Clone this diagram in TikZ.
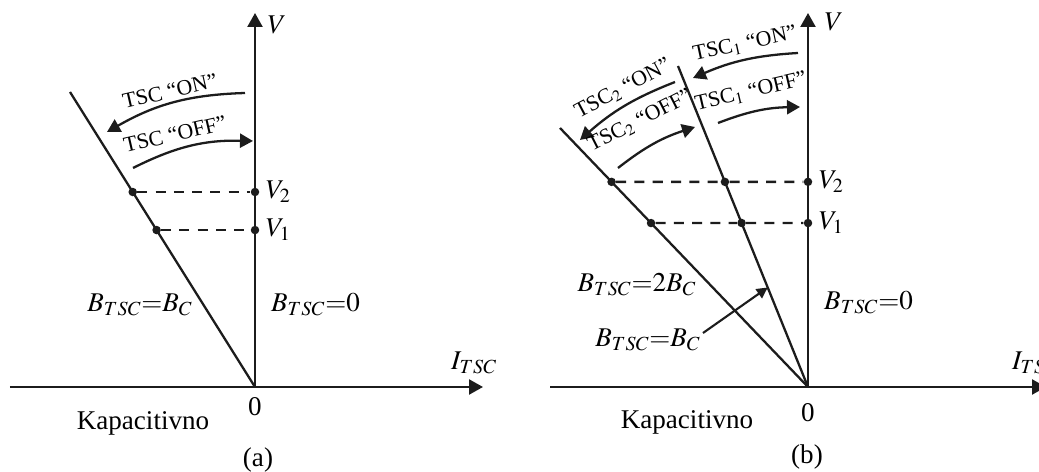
\documentclass[tikz,border=0pt]{standalone}
\usepackage{mathptmx}
\usepackage{fontspec}
\setmainfont{Liberation Serif}
\usetikzlibrary{arrows.meta,positioning,calc}
\definecolor{INK}{HTML}{1C1C1C}

\begin{document}
\begin{tikzpicture}[
  font=\fontsize{15.4}{18}\selectfont,
  axis/.style={-{Triangle[length=2.8mm, width=3mm]}, draw=INK, line width=1.3pt},
  ray/.style={draw=INK, line width=1.3pt},
  guide/.style={draw=INK, dash pattern=on 5.7pt off 4.7pt, line width=1.3pt},
  dot/.style={circle, fill=INK, inner sep=0pt, minimum size=1.7mm},
  arr/.style={-{Triangle[length=2.6mm, width=2.8mm]}, draw=INK, line width=1.3pt},
  ptr/.style={-{Triangle[length=2.2mm, width=2.2mm]}, draw=INK, line width=1.2pt},
  swlbl/.style={font=\fontsize{12.4}{14}\selectfont, inner sep=1pt},
]
\useasboundingbox (0,0) rectangle (20.78,9.44);
\clip (0,0) rectangle (20.78,9.44);

% panel (a)
\coordinate (Oa) at (5.10,1.70);
\coordinate (Va) at (5.10,9.18);
\coordinate (Xa0) at (0.20,1.70);
\coordinate (Xa1) at (9.66,1.70);
\coordinate (Ea) at (1.40,7.60);
\draw[axis] (Xa0) -- (Xa1);
\draw[axis] (Oa) -- (Va);
\draw[ray] (Oa) -- (Ea);

\node[dot] (a2) at ($(Oa)!0.661!(Ea)$) {};
\node[dot] (a1) at ($(Oa)!0.532!(Ea)$) {};
\node[dot] (a2v) at (Oa |- a2) {};
\node[dot] (a1v) at (Oa |- a1) {};
\draw[guide] (a2) -- (a2v);
\draw[guide] (a1) -- (a1v);
\node[right=0.12cm of a2v, inner sep=0pt] {$V_2$};
\node[right=0.12cm of a1v, inner sep=0pt] {$V_1$};

\node (VlA) at (5.54,8.94) {$V$};
\node[anchor=west] (IlA) at (8.90,2.18) {$I_{TSC}$};
\node (zeroA) at (5.10,1.30) {0};
\node (capA) at (2.86,0.98) {Kapacitivno};
\node (tagA) at (5.16,0.24) {(a)};
\node (bcA) at (2.80,3.34) {$B_{TSC}{=}B_C$};
\node[anchor=west] (b0A) at (5.30,3.34) {$B_{TSC}{=}0$};

% switching arrows (a)
\coordinate (onA1) at (4.90,7.58);
\coordinate (onA2) at (2.14,6.80);
\coordinate (offA1) at (2.66,6.08);
\coordinate (offA2) at (5.06,6.62);
\draw[arr] (onA1) to[bend right=14] (onA2);
\draw[arr] (offA1) to[bend left=14] (offA2);
\node[swlbl, rotate=13] at (3.40,7.62) {TSC “ON”};
\node[swlbl, rotate=13] at (3.50,6.76) {TSC “OFF”};

% panel (b)
\coordinate (Ob) at (16.16,1.70);
\coordinate (Vb) at (16.16,9.18);
\coordinate (Xb0) at (11.00,1.70);
\coordinate (Xb1) at (20.92,1.70);
\coordinate (Eb1) at (13.56,8.12);
\coordinate (Eb2) at (11.20,6.88);
\draw[axis] (Xb0) -- (Xb1);
\draw[axis] (Ob) -- (Vb);
\draw[ray] (Ob) -- (Eb1);
\draw[ray] (Ob) -- (Eb2);

\node[dot] (b2o) at ($(Ob)!0.792!(Eb2)$) {};
\node[dot] (b2i) at ($(Ob)!0.639!(Eb1)$) {};
\node[dot] (b1o) at ($(Ob)!0.633!(Eb2)$) {};
\node[dot] (b1i) at ($(Ob)!0.511!(Eb1)$) {};
\node[dot] (b2v) at (Ob |- b2o) {};
\node[dot] (b1v) at (Ob |- b1o) {};
\draw[guide] (b2o) -- (b2i) -- (b2v);
\draw[guide] (b1o) -- (b1i) -- (b1v);
\node[right=0.12cm of b2v, inner sep=0pt] {$V_2$};
\node[right=0.12cm of b1v, inner sep=0pt] {$V_1$};

\node (VlB) at (16.68,9.00) {$V$};
\node[anchor=west] (IlB) at (20.12,2.18) {$I_{TSC}$};
\node (zeroB) at (16.16,1.18) {0};
\node (capB) at (13.74,1.00) {Kapacitivno};
\node (tagB) at (16.14,0.30) {(b)};
\node (b2cB) at (12.74,3.74) {$B_{TSC}{=}2B_C$};
\node (bcB) at (12.96,2.64) {$B_{TSC}{=}B_C$};
\node[anchor=west] (b0B) at (16.36,3.38) {$B_{TSC}{=}0$};

% pointer to the B_C line
\coordinate (ps) at (14.06,2.78);
\coordinate (pt) at ($(Ob)!0.31!(Eb1)$);
\draw[ptr] (ps) -- (pt);

% switching arrows (b)
\coordinate (on1a) at (15.96,8.38);
\coordinate (on1b) at (13.86,7.88);
\coordinate (off1a) at (14.36,6.98);
\coordinate (off1b) at (16.00,7.30);
\coordinate (on2a) at (13.50,7.80);
\coordinate (on2b) at (11.60,6.64);
\coordinate (off2a) at (12.36,6.08);
\coordinate (off2b) at (13.90,6.90);
\draw[arr] (on1a) to[bend right=10] (on1b);
\draw[arr] (off1a) to[bend left=10] (off1b);
\draw[arr] (on2a) to[bend right=10] (on2b);
\draw[arr] (off2a) to[bend left=10] (off2b);
\node[swlbl, rotate=12] at (14.90,8.56) {TSC$_1$ “ON”};
\node[swlbl, rotate=13] at (15.02,7.60) {TSC$_1$ “OFF”};
\node[swlbl, rotate=28] at (12.46,7.66) {TSC$_2$ “ON”};
\node[swlbl, rotate=27] at (12.80,7.02) {TSC$_2$ “OFF”};

\end{tikzpicture}
\end{document}
